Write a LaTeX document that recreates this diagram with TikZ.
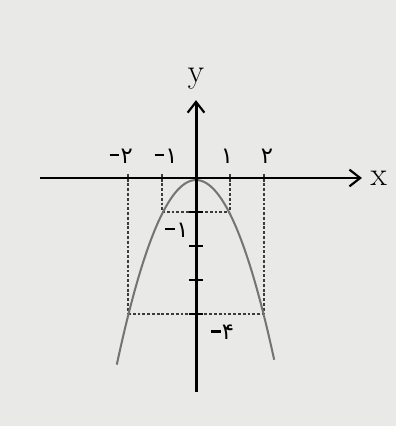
\documentclass[tikz,border=0pt]{standalone}
\usepackage{fontspec}
\usepackage{tikz}
\usetikzlibrary{positioning,arrows.meta}
\newfontfamily\farsi[Script=Arabic]{DejaVu Sans}
\definecolor{Paper}{HTML}{E9E9E7}
\definecolor{Curve}{HTML}{747474}
\definecolor{Guide}{HTML}{3C3C3C}
\newcommand{\fanum}[1]{{\fontsize{19}{21}\selectfont\farsi #1}}
\newcommand{\faneg}[1]{{\fontsize{19}{21}\selectfont\rule[0.3em]{0.42em}{0.11em}\hspace{0.06em}}\fanum{#1}}

\begin{document}
\begin{tikzpicture}[every node/.style={inner sep=0pt}]
    \tikzstyle{axis}=[line width=2.5pt, black, -{Straight Barb[length=9pt, width=14pt, line width=1.8pt]}]
    \tikzstyle{guide}=[Guide, line width=1.4pt, dash pattern=on 2.4pt off 1.6pt]
    \tikzstyle{tick}=[black, line width=2pt]
    \tikzstyle{lbl}=[font=\fontsize{28}{30}\selectfont]
    \fill[Paper] (-5.765,-7.294) rectangle (5.882,5.235);
    \useasboundingbox (-5.765,-7.294) rectangle (5.882,5.235);
    % axes
    \coordinate (xstart) at (-4.59,0);
    \coordinate (xend) at (4.88,0);
    \coordinate (ystart) at (0,-6.29);
    \coordinate (yend) at (0,2.29);
    % points of the curve
    \coordinate (pa) at (-2,-4);
    \coordinate (pb) at (-1,-1);
    \coordinate (pc) at (1,-1);
    \coordinate (pd) at (2,-4);
    \coordinate (qa) at (-2,0.12);
    \coordinate (qb) at (-1,0.12);
    \coordinate (qc) at (1,0.12);
    \coordinate (qd) at (2,0.12);
    % dashed guides
    \draw[guide] (qa) -- (pa);
    \draw[guide] (qb) -- (pb);
    \draw[guide] (qc) -- (pc);
    \draw[guide] (qd) -- (pd);
    \draw[guide] (pb) -- (pc);
    \draw[guide] (pa) -- (pd);
    % parabola
    \draw[Curve, line width=1.7pt, domain=-2.33:2.3, samples=80, smooth] plot (\x, {-0.06-\x*\x});
    \draw[axis] (xstart) -- (xend);
    \draw[axis] (ystart) -- (yend);
    \foreach \k in {1,...,4}
        \draw[tick] (-0.2,-\k) -- (0.2,-\k);
    \node[lbl, right=0.25cm of xend] (xlab) {x};
    \node[lbl, above=0.3cm of yend] (ylab) {y};
    \node (ta) at (-2.2,0.65) {\faneg{۲}};
    \node (tb) at (-0.88,0.65) {\faneg{۱}};
    \node (tc) at (0.91,0.65) {\fanum{۱}};
    \node (td) at (2.09,0.65) {\fanum{۲}};
    \node (te) at (-0.56,-1.53) {\faneg{۱}};
    \node (tf) at (0.78,-4.53) {\faneg{۴}};
\end{tikzpicture}
\end{document}
